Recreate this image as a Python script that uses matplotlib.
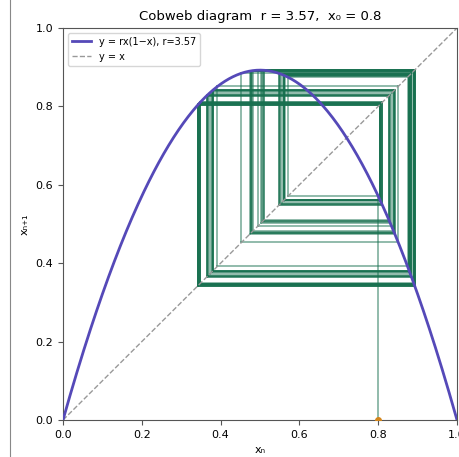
import numpy as np
import matplotlib
matplotlib.use("Agg")
import matplotlib.pyplot as plt
from matplotlib.lines import Line2D

# map parameters shown in the title
r = 3.57
x0 = 0.8
n_iter = 100

axis_ticks = [0.0, 0.2, 0.4, 0.6, 0.8, 1.0]


def f(x):
    return r * x * (1 - x)


fig = plt.figure(figsize=(4.6, 4.57), dpi=100)
ax = fig.add_axes([63 / 460, 37 / 457, 394 / 460, 392 / 457])

# stray separator line at the far left of the figure
fig.add_artist(Line2D([10 / 460, 10 / 460], [0, 1], color="#888888", lw=0.8))

xs = np.linspace(0, 1, 400)
ax.plot(xs, f(xs), color="#5549b8", lw=2, label="y = rx(1\u2212x), r=3.57", zorder=3)
ax.plot([0, 1], [0, 1], color="#999999", lw=1, ls="--", label="y = x", zorder=2)

# cobweb
x, y = x0, 0.0
for i in range(n_iter):
    fx = f(x)
    ax.plot([x, x], [y, fx], color="#17704f", lw=1.1, alpha=0.6, zorder=1)
    ax.plot([x, fx], [fx, fx], color="#17704f", lw=1.1, alpha=0.6, zorder=1)
    x, y = fx, fx

ax.plot([x0], [0], "o", color="#d4861c", ms=4, zorder=4)

ax.set_xlim(0, 1)
ax.set_ylim(0, 1)
ax.set_xticks(axis_ticks)
ax.set_yticks(axis_ticks)
ax.tick_params(labelsize=8, color="#555555")
for s in ax.spines.values():
    s.set_color("#555555")
ax.set_xlabel("x\u2099", fontsize=8)
ax.set_ylabel("x\u2099\u208a\u2081", fontsize=8)
ax.set_title("Cobweb diagram  r = 3.57,  x\u2080 = 0.8", fontsize=9.5)
ax.legend(loc="upper left", fontsize=7)

fig.savefig("out.png", dpi=100)
